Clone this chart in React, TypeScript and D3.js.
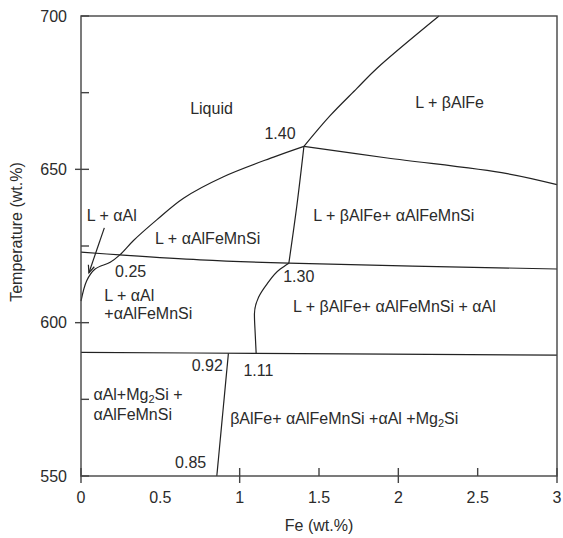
import React from "react";
import * as d3 from "d3";

// ---- data (Fe wt.% , temperature °C) ----
const liqAlphaFe = [0, 0.036, 0.089, 0.184, 0.245, 0.331, 0.479, 0.646, 0.898, 1.214, 1.405];
const liqAlphaT = [607.0, 613.7, 617.5, 619.7, 622.1, 626.8, 633.6, 640.6, 647.6, 654.0, 657.5];

const liqBetaFe = [1.405, 1.57, 1.739, 1.864, 2.256];
const liqBetaT = [657.5, 667.5, 676.4, 682.9, 700];

const betaTernFe = [1.405, 1.93, 2.686, 3];
const betaTernT = [657.5, 653.7, 648.6, 645.0];

const ternDivFe = [1.405, 1.36, 1.31];
const ternDivT = [657.5, 638.0, 619.4];

const line622Fe = [0, 0.245, 0.75, 1.31, 3];
const line622T = [623.0, 622.1, 620.5, 619.4, 617.5];

const curve130Fe = [1.31, 1.256, 1.172, 1.119, 1.093, 1.098, 1.104];
const curve130T = [619.4, 617.5, 612.6, 608.3, 602.8, 596.3, 590.0];

const line590Fe = [0, 1.1, 3];
const line590T = [590.3, 590.0, 589.4];

const line092Fe = [0.929, 0.856];
const line092T = [590, 550];

const xTickMajor = [0, 1, 2, 3];
const xTickMinor = [1.5, 2.5];
const xTickLabels = [0, 0.5, 1, 1.5, 2, 2.5, 3];
const yTickMajor = [650, 600];
const yTickMinor = [700, 675, 625, 575, 550];
const yTickLabels = [700, 650, 600, 550];

type Ann = { t: string; fe: number; temp: number; anchor?: string };
const annotations: Ann[] = [
  { t: "Liquid", fe: 0.688, temp: 667.9 },
  { t: "L + βAlFe", fe: 2.107, temp: 669.9 },
  { t: "1.40", fe: 1.156, temp: 659.8 },
  { t: "L + αAl", fe: 0.036, temp: 633.1 },
  { t: "L + αAlFeMnSi", fe: 0.467, temp: 625.7 },
  { t: "L + βAlFe+ αAlFeMnSi", fe: 1.464, temp: 633.1 },
  { t: "0.25", fe: 0.215, temp: 614.8 },
  { t: "1.30", fe: 1.274, temp: 613.2 },
  { t: "L + αAl", fe: 0.147, temp: 607.2 },
  { t: "+αAlFeMnSi", fe: 0.147, temp: 601.2 },
  { t: "L + βAlFe+ αAlFeMnSi + αAl", fe: 1.336, temp: 603.4 },
  { t: "0.92", fe: 0.894, temp: 584.3, anchor: "end" },
  { t: "1.11", fe: 1.024, temp: 582.7 },
  { t: "αAlFeMnSi", fe: 0.078, temp: 568.3 },
  { t: "0.85", fe: 0.789, temp: 552.7, anchor: "end" },
];
const subAnnotations = [
  { pre: "αAl+Mg", sub: "2", post: "Si +", fe: 0.078, temp: 574.7 },
  { pre: "βAlFe+ αAlFeMnSi +αAl +Mg", sub: "2", post: "Si", fe: 0.94, temp: 566.9 },
];
const arrowFe = [0.147, 0.05];
const arrowT = [630.9, 616.3];

const W = 563;
const H = 538;
const L = 81, R = 557, T0 = 16, B = 476;

export default function App() {
  const x = d3.scaleLinear().domain([0, 3]).range([L, R]);
  const y = d3.scaleLinear().domain([550, 700]).range([B, T0]);
  const line = d3
    .line<[number, number]>()
    .x((d) => x(d[0]))
    .y((d) => y(d[1]))
    .curve(d3.curveMonotoneY);
  const lineX = d3
    .line<[number, number]>()
    .x((d) => x(d[0]))
    .y((d) => y(d[1]))
    .curve(d3.curveCatmullRom);
  const zip = (a: number[], b: number[]) => a.map((v, i) => [v, b[i]] as [number, number]);

  const curveStroke = "#222";
  const textColor = "#2b2b2b";
  const font = "Liberation Sans, Arial, sans-serif";

  const ax0 = x(arrowFe[0]), ay0 = y(arrowT[0]);
  const ax1 = x(arrowFe[1]), ay1 = y(arrowT[1]);
  const ang = Math.atan2(ay1 - ay0, ax1 - ax0);
  const hl = 8, ha = 0.4;
  const h1 = [ax1 - hl * Math.cos(ang - ha), ay1 - hl * Math.sin(ang - ha)];
  const h2 = [ax1 - hl * Math.cos(ang + ha), ay1 - hl * Math.sin(ang + ha)];

  return (
    <svg
      width={W}
      height={H}
      style={{ position: "absolute", left: 0, top: 0, background: "#fff" }}
      fontFamily={font}
    >
      {/* curves */}
      <g fill="none" stroke={curveStroke} strokeWidth={1.2}>
        <path d={lineX(zip(liqAlphaFe, liqAlphaT)) || ""} />
        <path d={lineX(zip(liqBetaFe, liqBetaT)) || ""} />
        <path d={lineX(zip(betaTernFe, betaTernT)) || ""} />
        <path d={lineX(zip(ternDivFe, ternDivT)) || ""} />
        <path d={lineX(zip(line622Fe, line622T)) || ""} />
        <path d={line(zip(curve130Fe, curve130T)) || ""} />
        <path d={lineX(zip(line590Fe, line590T)) || ""} />
        <path d={lineX(zip(line092Fe, line092T)) || ""} />
        <line x1={ax0} y1={ay0} x2={ax1} y2={ay1} />
        <polyline points={`${h1[0]},${h1[1]} ${ax1},${ay1} ${h2[0]},${h2[1]}`} />
      </g>

      {/* frame */}
      <rect x={L} y={T0} width={R - L} height={B - T0} fill="none" stroke="#444" strokeWidth={1.4} />

      {/* ticks */}
      <g stroke="#444" strokeWidth={1.4}>
        {xTickMajor.map((v) => (
          <line key={"xm" + v} x1={x(v)} x2={x(v)} y1={B - 8} y2={B + 7} />
        ))}
        {xTickMinor.map((v) => (
          <line key={"xn" + v} x1={x(v)} x2={x(v)} y1={B - 8} y2={B} />
        ))}
        {yTickMajor.map((v) => (
          <line key={"ym" + v} x1={L - 6} x2={L + 8} y1={y(v)} y2={y(v)} />
        ))}
        {yTickMinor.map((v) => (
          <line key={"yn" + v} x1={L} x2={L + 8} y1={y(v)} y2={y(v)} />
        ))}
      </g>

      {/* tick labels */}
      <g fontSize={16} fill={textColor}>
        {xTickLabels.map((v) => (
          <text key={"xl" + v} x={x(v)} y={503} textAnchor="middle">
            {String(v)}
          </text>
        ))}
        {yTickLabels.map((v) => (
          <text key={"yl" + v} x={67} y={y(v)} dy="0.35em" textAnchor="end">
            {String(v)}
          </text>
        ))}
        <text x={(L + R) / 2} y={531} textAnchor="middle">
          Fe (wt.%)
        </text>
        <text transform={`translate(22,${232}) rotate(-90)`} textAnchor="middle">
          Temperature (wt.%)
        </text>
      </g>

      {/* annotations */}
      <g fontSize={16} fill={textColor}>
        {annotations.map((a, i) => (
          <text key={"a" + i} x={x(a.fe)} y={y(a.temp)} textAnchor={a.anchor || "start"}>
            {a.t}
          </text>
        ))}
        {subAnnotations.map((a, i) => (
          <text key={"s" + i} x={x(a.fe)} y={y(a.temp)}>
            {a.pre}
            <tspan fontSize={11} dy={3}>
              {a.sub}
            </tspan>
            <tspan dy={-3}>{a.post}</tspan>
          </text>
        ))}
      </g>
    </svg>
  );
}
